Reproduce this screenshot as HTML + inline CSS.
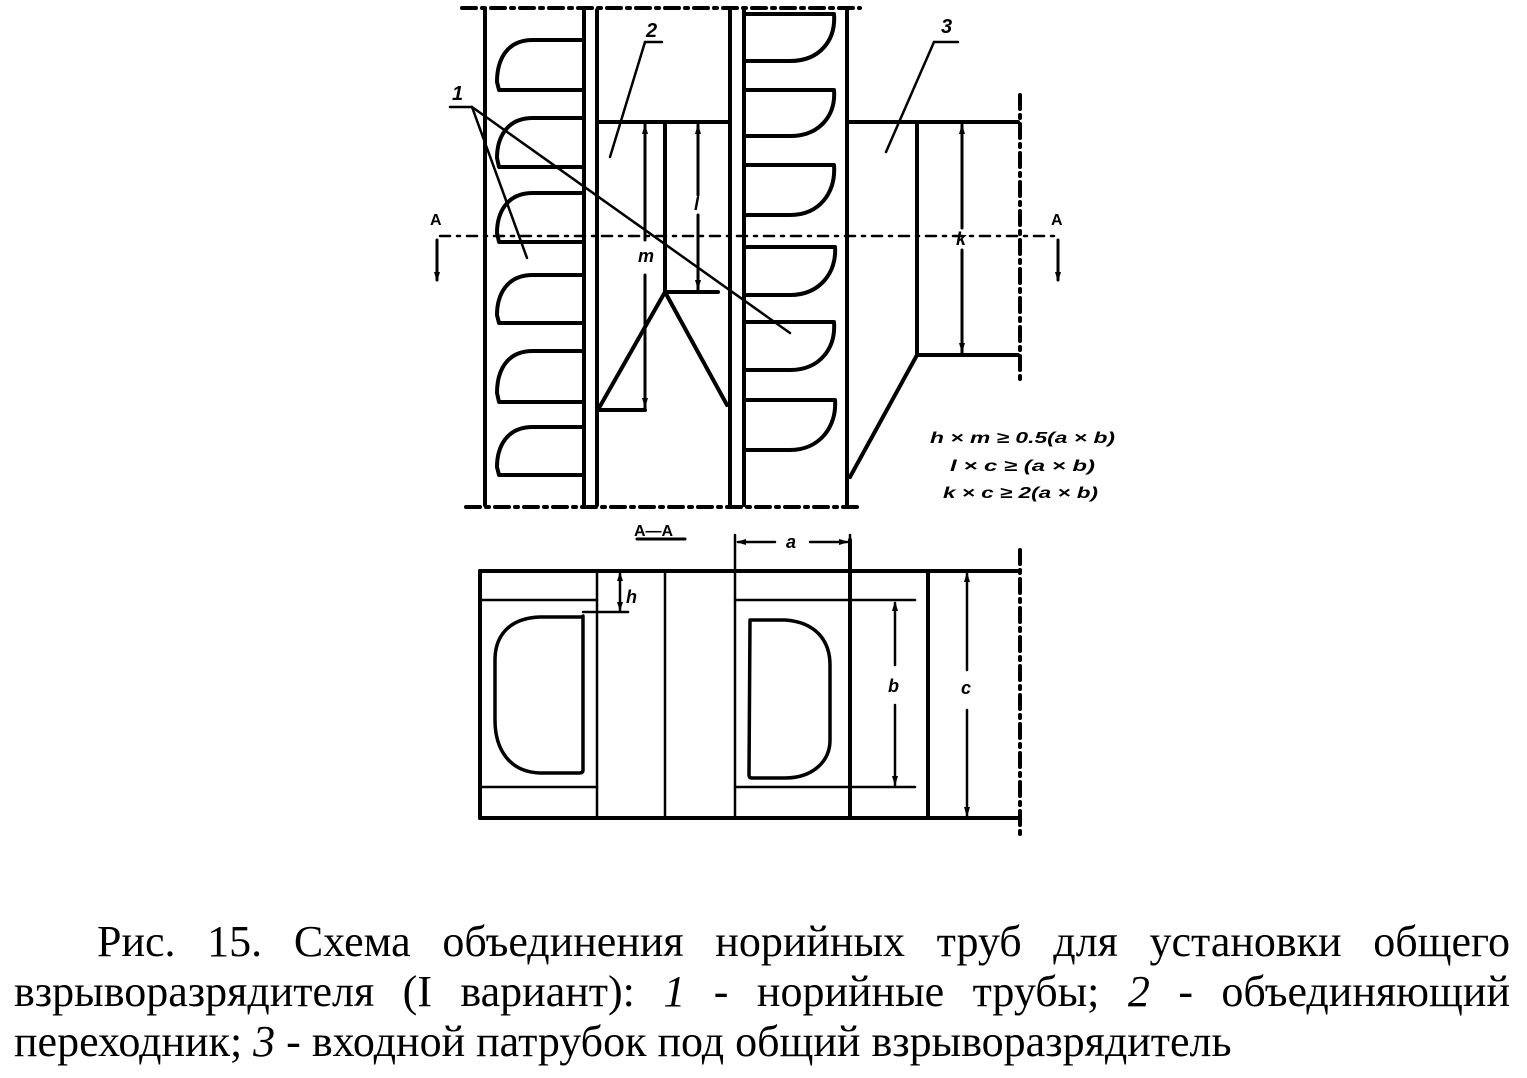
<!DOCTYPE html>
<html><head><meta charset="utf-8"><style>html,body{margin:0;padding:0;background:#fff}svg{display:block}
.c{position:absolute;left:0;font-family:"Liberation Serif","Times New Roman",serif;font-size:44px;line-height:50px;height:50px;white-space:nowrap;text-align:justify;text-align-last:justify;color:#000}
.c i{font-style:italic}
</style></head>
<body>
<div style="position:relative;width:1527px;height:1078px;overflow:hidden">
<svg width="1527" height="1078" viewBox="0 0 1527 1078" xmlns="http://www.w3.org/2000/svg" style="position:absolute;left:0;top:0">
<g fill="none" stroke="#000" stroke-linecap="round" stroke-linejoin="round">
<g stroke-width="4" stroke-dasharray="14,6,3,6">
<line x1="462" y1="8" x2="860" y2="8"/>
<line x1="466" y1="507" x2="860" y2="507"/>
<line x1="1020" y1="95" x2="1020" y2="380"/>
<line x1="1020" y1="550" x2="1020" y2="840"/>
</g>
<g stroke-width="2.5" stroke-dasharray="10,7,3,7">
<line x1="440" y1="236" x2="1055" y2="236"/>
</g>
<g stroke-width="4">
<line x1="485" y1="10" x2="485" y2="505"/>
<line x1="584" y1="10" x2="584" y2="505"/>
<line x1="597" y1="10" x2="597" y2="505"/>
<line x1="730" y1="10" x2="730" y2="505"/>
<line x1="744" y1="10" x2="744" y2="505"/>
<line x1="847" y1="10" x2="847" y2="505"/>
<line x1="597" y1="122" x2="730" y2="122"/>
<line x1="665" y1="122" x2="665" y2="292"/>
<line x1="665" y1="292" x2="718" y2="292"/>
<line x1="665" y1="292" x2="599" y2="408"/>
<line x1="665" y1="292" x2="727" y2="405"/>
<line x1="599" y1="410" x2="645" y2="410"/>
<line x1="847" y1="122" x2="1018" y2="122"/>
<line x1="917" y1="122" x2="917" y2="355"/>
<line x1="917" y1="355" x2="1018" y2="355"/>
<line x1="917" y1="355" x2="850" y2="477"/>
</g>
<g stroke-width="4">
<path d="M583,40 H533 C505,40 497,62 497,82 L499,90 H583"/>
<path d="M583,118 H533 C505,118 497,140 497,158 L499,167 H583"/>
<path d="M583,193 H533 C505,193 497,215 497,233 L499,242 H583"/>
<path d="M583,275 H533 C505,275 497,297 497,315 L499,323 H583"/>
<path d="M583,351 H533 C505,351 497,373 497,393 L499,402 H583"/>
<path d="M583,427 H533 C505,427 497,449 497,467 L499,475 H583"/>
<path d="M745,14 H834 C836,40 820,61 790,61 H745"/>
<path d="M745,90 H834 C836,115 820,136 790,136 H745"/>
<path d="M745,165 H834 C836,192 820,215 790,215 H745"/>
<path d="M745,247 H835 C837,272 820,295 790,295 H745"/>
<path d="M745,322 H834 C836,348 820,370 790,370 H745"/>
<path d="M745,400 H835 C837,426 820,450 790,450 H745"/>
</g>
<g stroke-width="2.5">
<line x1="450" y1="107" x2="472" y2="107"/>
<line x1="472" y1="107" x2="527" y2="258"/>
<line x1="472" y1="107" x2="790" y2="333"/>
<line x1="645" y1="42" x2="662" y2="42"/>
<line x1="645" y1="42" x2="610" y2="157"/>
<line x1="934" y1="42" x2="958" y2="42"/>
<line x1="934" y1="42" x2="886" y2="152"/>
</g>
<g stroke-width="3">
<line x1="645" y1="125" x2="645" y2="240"/>
<line x1="645" y1="275" x2="645" y2="408"/>
<line x1="698" y1="125" x2="698" y2="195"/>
<line x1="698" y1="215" x2="698" y2="290"/>
<line x1="962" y1="125" x2="962" y2="228"/>
<line x1="962" y1="250" x2="962" y2="353"/>
<line x1="437" y1="240" x2="437" y2="280"/>
<line x1="1058" y1="240" x2="1058" y2="280"/>
</g>
<g fill="#000" stroke="none">
<path d="M645,124 l-3,10 h6z"/><path d="M645,408 l-3,-10 h6z"/>
<path d="M698,124 l-3,10 h6z"/><path d="M698,290 l-3,-10 h6z"/>
<path d="M962,124 l-3,10 h6z"/><path d="M962,353 l-3,-10 h6z"/>
<path d="M437,282 l-3,-10 h6z"/><path d="M1058,282 l-3,-10 h6z"/>
</g>
<g stroke-width="4">
<line x1="480" y1="571" x2="1018" y2="571"/>
<line x1="480" y1="818" x2="1018" y2="818"/>
<line x1="480" y1="571" x2="480" y2="818"/>
<line x1="928" y1="571" x2="928" y2="818"/>
<line x1="850" y1="540" x2="850" y2="818"/>
</g>
<g stroke-width="2.5">
<line x1="597" y1="571" x2="597" y2="818"/>
<line x1="665" y1="571" x2="665" y2="818"/>
<line x1="735" y1="535" x2="735" y2="818"/>
<line x1="850" y1="535" x2="850" y2="571"/>
<line x1="480" y1="600" x2="597" y2="600"/>
<line x1="480" y1="787" x2="597" y2="787"/>
<line x1="735" y1="600" x2="915" y2="600"/>
<line x1="735" y1="787" x2="915" y2="787"/>
<line x1="583" y1="612" x2="628" y2="612"/>
<line x1="620" y1="573" x2="620" y2="610"/>
<line x1="895" y1="603" x2="895" y2="665"/>
<line x1="895" y1="705" x2="895" y2="785"/>
<line x1="967" y1="573" x2="967" y2="670"/>
<line x1="967" y1="710" x2="967" y2="816"/>
<line x1="738" y1="542" x2="775" y2="542"/>
<line x1="810" y1="542" x2="847" y2="542"/>
<line x1="637" y1="539" x2="685" y2="539" stroke-width="3"/>
</g>
<g stroke-width="3.5">
<path d="M583,616 V770 Q583,773 579,773 H540 C510,772 495,750 495,720 V660 C495,635 510,618 540,617 H583"/>
<path d="M750,620 H785 C815,622 830,640 830,665 V740 C830,762 812,778 785,778 H752 Q749,778 749,775 Z"/>
</g>
<g fill="#000" stroke="none">
<path d="M620,572 l-3,9 h6z"/><path d="M620,611 l-3,-9 h6z"/>
<path d="M895,601 l-3,10 h6z"/><path d="M895,786 l-3,-10 h6z"/>
<path d="M967,572 l-3,10 h6z"/><path d="M967,817 l-3,-10 h6z"/>
<path d="M736,542 l10,-3 v6z"/><path d="M849,542 l-10,-3 v6z"/>
</g>
</g>
<g style="font-family:'Liberation Sans',sans-serif;font-weight:bold;font-style:italic" fill="#000">
<text x="452" y="100" font-size="20">1</text>
<text x="646" y="37" font-size="20">2</text>
<text x="941" y="33" font-size="20">3</text>
<text x="638" y="262" font-size="18">m</text>
<text x="694" y="210" font-size="18">l</text>
<text x="956" y="245" font-size="18">k</text>
<text x="430" y="225" font-size="16" font-style="normal">A</text>
<text x="1051" y="225" font-size="16" font-style="normal">A</text>
<text x="634" y="536" font-size="16" font-style="normal">A—A</text>
<text x="786" y="548" font-size="18">a</text>
<text x="626" y="603" font-size="18">h</text>
<text x="888" y="692" font-size="18">b</text>
<text x="961" y="694" font-size="18">c</text>
<text x="930" y="443" font-size="16" textLength="185" lengthAdjust="spacingAndGlyphs">h × m ≥ 0.5(a × b)</text>
<text x="950" y="471" font-size="16" textLength="145" lengthAdjust="spacingAndGlyphs">l × c ≥ (a × b)</text>
<text x="943" y="498" font-size="16" textLength="155" lengthAdjust="spacingAndGlyphs">k × c ≥ 2(a × b)</text>
</g>
</svg>
<div class="c" style="left:97px;top:917px;width:1413px">Рис. 15. Схема объединения норийных труб для установки общего</div>
<div class="c" style="left:14px;top:967px;width:1496px">взрыворазрядителя (I вариант): <i>1</i> - норийные трубы; <i>2</i> - объединяющий</div>
<div class="c" style="left:14px;top:1017px;width:1300px;text-align:left;text-align-last:left">переходник; <i>3</i> - входной патрубок под общий взрыворазрядитель</div>
</div>
</body></html>
